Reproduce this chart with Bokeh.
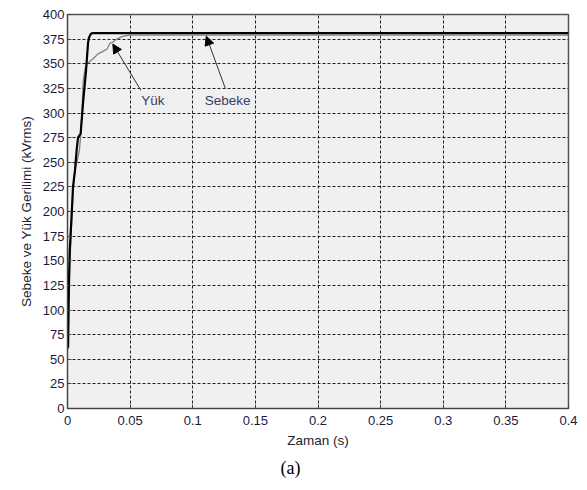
from bokeh.plotting import figure
from bokeh.models import Arrow, NormalHead, Label, Title, FixedTicker, Range1d
from bokeh.embed import file_html
from bokeh.resources import INLINE

# Sebeke (grid) voltage, kVrms
sebeke_t = [0.0005, 0.0008, 0.0012, 0.0018, 0.0034, 0.0044, 0.006, 0.0073, 0.0084,
            0.0105, 0.0124, 0.0148, 0.0164, 0.017, 0.0185, 0.0196, 0.4]
sebeke_v = [62, 100, 131, 160, 199, 225, 242, 262, 275,
            279, 310, 343, 371, 376, 380, 381, 381]

# Yük (load) voltage, kVrms
yuk_t = [0.0005, 0.001, 0.002, 0.0035, 0.0045, 0.006, 0.0077, 0.0095, 0.0105, 0.0115,
         0.0126, 0.0140, 0.0155, 0.0175, 0.0204, 0.0244, 0.0276, 0.0316, 0.034, 0.0364,
         0.038, 0.041, 0.0444, 0.05, 0.4]
yuk_v = [60, 100, 150, 195, 220, 243, 251, 262, 277, 300,
         333, 345, 350, 352, 355, 360, 362, 365, 371, 372,
         374, 376, 378, 379, 379]

x_ticks = [0, 0.05, 0.1, 0.15, 0.2, 0.25, 0.3, 0.35, 0.4]
x_tick_labels = ["0", "0.05", "0.1", "0.15", "0.2", "0.25", "0.3", "0.35", "0.4"]
y_ticks = [0, 25, 50, 75, 100, 125, 150, 175, 200, 225, 250, 275, 300, 325, 350, 375, 400]

# annotation positions (data coords)
yuk_label = (0.0588, 313, "Yük")
sebeke_label = (0.1095, 313, "Sebeke")
yuk_arrow = (0.0586, 323, 0.0362, 370)
sebeke_arrow = (0.126, 325, 0.1108, 378)

FONT = "Liberation Sans"

p = figure(width=587, height=490, output_backend="svg", toolbar_location=None,
           x_range=Range1d(0, 0.4), y_range=Range1d(0, 400),
           min_border_left=67, min_border_right=19, min_border_top=14, min_border_bottom=82)
p.background_fill_color = "#f0f0f0"
p.border_fill_color = "white"
p.outline_line_color = "#555555"
p.outline_line_width = 1.5

p.xaxis.ticker = FixedTicker(ticks=x_ticks)
p.xaxis.major_label_overrides = {t: l for t, l in zip(x_ticks, x_tick_labels)}
p.yaxis.ticker = FixedTicker(ticks=y_ticks)
for ax in (p.xaxis, p.yaxis):
    ax.major_tick_in = 4
    ax.major_tick_out = 0
    ax.minor_tick_line_color = None
    ax.axis_line_color = "#444444"
    ax.major_tick_line_color = "#444444"
    ax.major_label_text_font = FONT
    ax.major_label_text_font_size = "13px"
    ax.major_label_text_color = "#1a1a40"
    ax.axis_label_text_font = FONT
    ax.axis_label_text_font_size = "13.5px"
    ax.axis_label_text_font_style = "normal"
    ax.axis_label_text_color = "#222233"
p.xaxis.major_label_standoff = 7
p.yaxis.major_label_standoff = 3
p.xaxis.axis_label = "Zaman (s)"
p.yaxis.axis_label = "Sebeke ve Yük Gerilimi (kVrms)"
p.xaxis.axis_label_standoff = 5
p.yaxis.axis_label_standoff = 6

p.grid.grid_line_color = "#222222"
p.grid.grid_line_dash = "3 2"
p.grid.grid_line_width = 1
p.grid.grid_line_alpha = 1.0

p.line(yuk_t, yuk_v, line_color="#808080", line_width=1.3)
p.line(sebeke_t, sebeke_v, line_color="black", line_width=2.2)

for (x0, y0, x1, y1) in (yuk_arrow, sebeke_arrow):
    p.add_layout(Arrow(x_start=x0, y_start=y0, x_end=x1, y_end=y1,
                       line_color="#333333", line_width=1,
                       end=NormalHead(size=9, fill_color="black", line_color="black")))

for (x, y, txt) in (yuk_label, sebeke_label):
    p.add_layout(Label(x=x, y=y, text=txt, text_font=FONT, text_font_size="13.5px",
                       text_color="#3a3a5e", text_baseline="middle", text_align="left"))

p.add_layout(Title(text="(a)", align="left", offset=213, text_font="Liberation Serif",
                   text_font_size="18px", text_font_style="normal", text_color="black"),
             "below")

open("out.html", "w").write(file_html(p, INLINE))
